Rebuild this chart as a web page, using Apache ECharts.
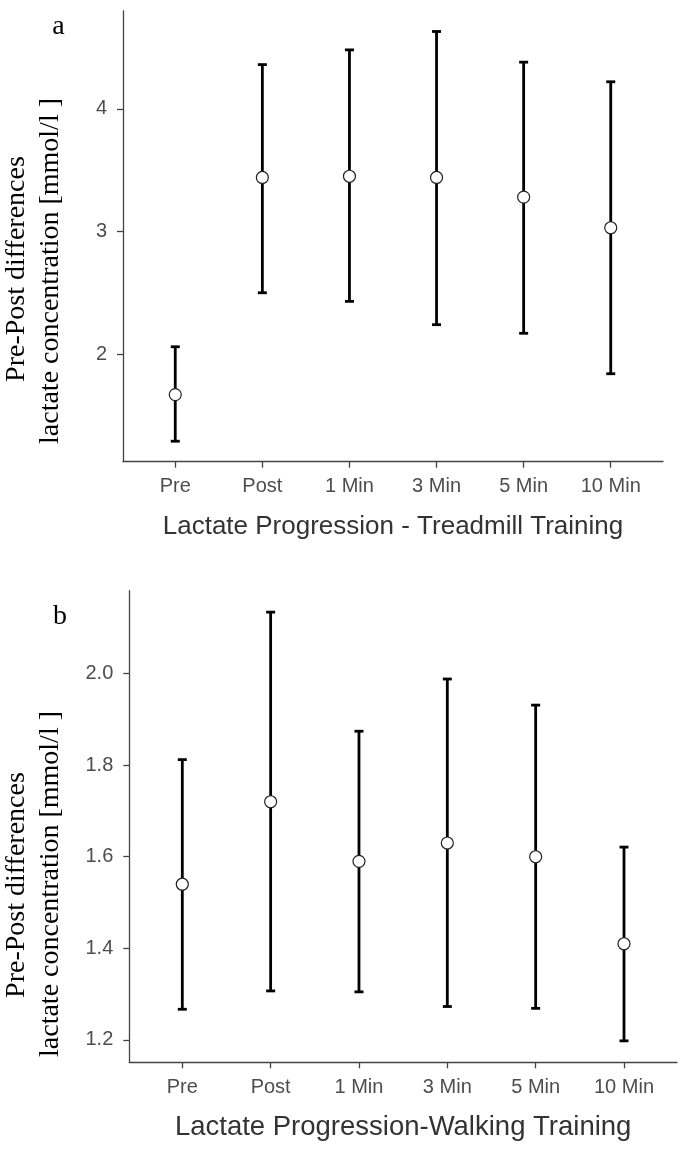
<!DOCTYPE html>
<html>
<head>
<meta charset="utf-8">
<script src="https://cdn.jsdelivr.net/npm/echarts@6/dist/echarts.min.js"></script>
<style>
  html, body { margin: 0; padding: 0; background: #fff; }
  #chart { width: 685px; height: 1159px; }
</style>
</head>
<body>
<div id="chart"></div>
<script>
const categories = ['Pre', 'Post', '1 Min', '3 Min', '5 Min', '10 Min'];

// panel a - treadmill
const treadMean = [1.67, 3.44, 3.45, 3.44, 3.28, 3.03];
const treadLow = [1.29, 2.50, 2.43, 2.24, 2.17, 1.84];
const treadHigh = [2.06, 4.36, 4.48, 4.63, 4.38, 4.22];
const treadTicks = [2, 3, 4];

// panel b - walking
const walkMean = [1.54, 1.72, 1.59, 1.63, 1.60, 1.41];
const walkLow = [1.267, 1.307, 1.305, 1.273, 1.269, 1.198];
const walkHigh = [1.812, 2.134, 1.874, 1.988, 1.931, 1.621];
const walkTicks = [1.2, 1.4, 1.6, 1.8, 2.0];

const catIdx = categories.map((c, i) => i);
const axisColor = '#444';
const labelColor = '#4d4d4d';

// ggplot-like 5% padding of the y range
function padded(low, high) {
  const lo = Math.min(...low), hi = Math.max(...high);
  const pad = (hi - lo) * 0.05;
  return [lo - pad, hi + pad];
}
const rangeA = padded(treadLow, treadHigh);
const rangeB = padded(walkLow, walkHigh);

function xAxisFor(gridIndex, title, titleSize, nameGap) {
  return {
    type: 'value', gridIndex, min: -0.6, max: 5.6,
    name: title, nameLocation: 'middle', nameGap,
    nameTextStyle: {fontFamily: 'Liberation Sans', fontSize: titleSize, color: '#333'},
    splitLine: {show: false},
    axisLine: {onZero: false, lineStyle: {color: axisColor, width: 1.3}},
    axisTick: {customValues: catIdx, length: 6, lineStyle: {color: axisColor, width: 1.3}},
    axisLabel: {
      customValues: catIdx, margin: 15,
      fontFamily: 'Liberation Sans', fontSize: 20, color: labelColor,
      formatter: v => categories[Math.round(v)]
    }
  };
}

function yAxisFor(gridIndex, range, ticks, digits) {
  return {
    type: 'value', gridIndex, min: range[0], max: range[1],
    splitLine: {show: false},
    axisLine: {show: true, onZero: false, lineStyle: {color: axisColor, width: 1.3}},
    axisTick: {show: true, customValues: ticks, length: 6, lineStyle: {color: axisColor, width: 1.3}},
    axisLabel: {
      customValues: ticks, margin: 16,
      fontFamily: 'Liberation Sans', fontSize: 20, color: labelColor,
      formatter: v => v.toFixed(digits)
    }
  };
}

function errorBars(idx, low, high) {
  return {
    type: 'custom', xAxisIndex: idx, yAxisIndex: idx, z: 2,
    data: categories.map((c, i) => [i, low[i], high[i]]),
    renderItem(params, api) {
      const lo = api.coord([api.value(0), api.value(1)]);
      const hi = api.coord([api.value(0), api.value(2)]);
      const cap = 4.5;
      const st = {stroke: '#000', lineWidth: 2.8};
      return {
        type: 'group',
        children: [
          {type: 'line', shape: {x1: lo[0], y1: lo[1], x2: hi[0], y2: hi[1]}, style: st},
          {type: 'line', shape: {x1: lo[0] - cap, y1: lo[1], x2: lo[0] + cap, y2: lo[1]}, style: st},
          {type: 'line', shape: {x1: hi[0] - cap, y1: hi[1], x2: hi[0] + cap, y2: hi[1]}, style: st}
        ]
      };
    }
  };
}

function means(idx, vals) {
  return {
    type: 'scatter', xAxisIndex: idx, yAxisIndex: idx, z: 5,
    symbol: 'circle', symbolSize: 12,
    itemStyle: {color: '#fff', borderColor: '#222', borderWidth: 1.2, opacity: 1},
    data: vals.map((v, i) => [i, v])
  };
}

function ylabel(x, y, text) {
  return {
    type: 'text', x, y, rotation: Math.PI / 2,
    style: {text, fontFamily: 'Liberation Serif', fontSize: 28, fill: '#000',
      textAlign: 'center', textVerticalAlign: 'middle'}
  };
}

const chart = echarts.init(document.getElementById('chart'), null, {renderer: 'canvas'});
chart.setOption({
  animation: false,
  backgroundColor: '#fff',
  grid: [
    {left: 123, right: 22, top: 11, bottom: 1159 - 461.7},
    {left: 129.3, right: 8, top: 590.7, bottom: 1159 - 1062.3}
  ],
  xAxis: [
    xAxisFor(0, 'Lactate Progression - Treadmill Training', 26, 52),
    xAxisFor(1, 'Lactate Progression-Walking Training', 27.5, 51)
  ],
  yAxis: [
    yAxisFor(0, rangeA, treadTicks, 0),
    yAxisFor(1, rangeB, walkTicks, 1)
  ],
  series: [
    errorBars(0, treadLow, treadHigh),
    means(0, treadMean),
    errorBars(1, walkLow, walkHigh),
    means(1, walkMean)
  ],
  graphic: [
    ylabel(16.5, 269, 'Pre-Post differences'),
    ylabel(50.5, 271, 'lactate concentration [mmol/l ]'),
    ylabel(16.5, 885, 'Pre-Post differences'),
    ylabel(50.5, 884, 'lactate concentration [mmol/l ]'),
    {type: 'text', x: 58.5, y: 27, style: {text: 'a', fontFamily: 'Liberation Serif', fontSize: 28,
      fill: '#000', textAlign: 'center', textVerticalAlign: 'middle'}},
    {type: 'text', x: 60, y: 617, style: {text: 'b', fontFamily: 'Liberation Serif', fontSize: 28,
      fill: '#000', textAlign: 'center', textVerticalAlign: 'middle'}}
  ]
});
</script>
</body>
</html>
